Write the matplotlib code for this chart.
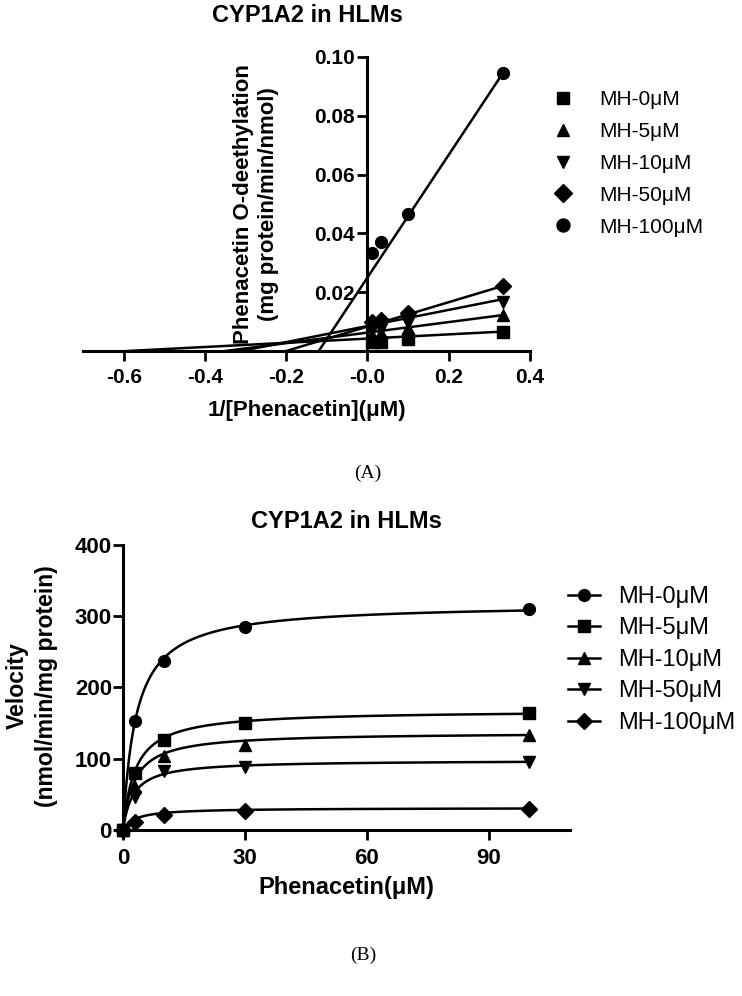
import matplotlib
matplotlib.use("Agg")
import matplotlib.pyplot as plt
import numpy as np

plt.rcParams['font.family'] = ['Liberation Sans', 'DejaVu Sans']

# ---- panel A: double reciprocal plot ----
inv_s = [0.01, 0.0333, 0.1, 0.3333]
a_labels = ['MH-0μM', 'MH-5μM', 'MH-10μM', 'MH-50μM', 'MH-100μM']
a_markers = ['s', '^', 'v', 'D', 'o']
a_mh0 = [0.0030, 0.0031, 0.0042, 0.0066]
a_mh5 = [0.0055, 0.0060, 0.0078, 0.0122]
a_mh10 = [0.0070, 0.0075, 0.0095, 0.0168]
a_mh50 = [0.0100, 0.0105, 0.0128, 0.0221]
a_mh100 = [0.0333, 0.0371, 0.0467, 0.0947]
# fitted lines (slope, y-intercept)
a_slope = [0.00715, 0.0179, 0.0274, 0.0415, 0.2086]
a_icpt = [0.00422, 0.00625, 0.0085, 0.0083, 0.0250]

# ---- panel B: Michaelis-Menten ----
conc = [0, 3, 10, 30, 100]
b_labels = ['MH-0μM', 'MH-5μM', 'MH-10μM', 'MH-50μM', 'MH-100μM']
b_markers = ['o', 's', '^', 'v', 'D']
b_mh0 = [0, 153, 237, 285, 310]
b_mh5 = [0, 80, 126, 150, 164]
b_mh10 = [0, 60, 104, 119, 133]
b_mh50 = [0, 46, 83, 89, 96]
b_mh100 = [0, 11, 21, 27, 30]
vmax = [318, 168, 137, 98, 31]
km = [3.2, 3.0, 2.8, 2.5, 3.0]

fig = plt.figure(figsize=(7.42, 9.96), dpi=100)


def style_axes(ax, tsize):
    for s in ['top', 'right']:
        ax.spines[s].set_visible(False)
    for s in ['left', 'bottom']:
        ax.spines[s].set_linewidth(2.2)
    ax.tick_params(direction='out', length=7, width=2, labelsize=tsize)
    plt.setp(ax.get_xticklabels() + ax.get_yticklabels(), fontweight='bold')


# panel A
ax1 = fig.add_axes([0.1119, 0.6476, 0.6024, 0.2952])
a_data = [a_mh0, a_mh5, a_mh10, a_mh50, a_mh100]
for vals, mk, lab, sl, ic in zip(a_data, a_markers, a_labels, a_slope, a_icpt):
    x0 = -ic / sl
    xs = np.array([x0, inv_s[-1]])
    ax1.plot(xs, sl * xs + ic, color='black', lw=1.8, clip_on=False)
    ax1.plot(inv_s, vals, ls='none', marker=mk, color='black', ms=8.5,
             label=lab, clip_on=False)
ax1.set_xlim(-0.7, 0.4)
ax1.set_ylim(0, 0.10)
ax1.spines['left'].set_position(('data', 0))
ax1.set_xticks([-0.6, -0.4, -0.2, 0, 0.2, 0.4])
ax1.set_xticklabels(['-0.6', '-0.4', '-0.2', '-0.0', '0.2', '0.4'])
ax1.set_yticks([0.02, 0.04, 0.06, 0.08, 0.10])
ax1.set_yticklabels(['0.02', '0.04', '0.06', '0.08', '0.10'])
style_axes(ax1, 15)
ax1.tick_params(axis='x', pad=5)
ax1.tick_params(axis='y', pad=2)
ax1.legend(loc='upper left', bbox_to_anchor=(547 / 742, 1 - 90 / 996),
           bbox_transform=fig.transFigure, frameon=False, fontsize=15,
           handlelength=1.5, handletextpad=1.0, labelspacing=0.62,
           borderpad=0, borderaxespad=0, markerscale=1.1)
fig.text(307 / 742, 1 - 15 / 996, 'CYP1A2 in HLMs', ha='center', va='center',
         fontsize=17, fontweight='bold')
fig.text(256 / 742, 1 - 204 / 996,
         'Phenacetin O-deethylation\n(mg protein/min/nmol)',
         rotation=90, ha='center', va='center', ma='center',
         fontsize=16, fontweight='bold', linespacing=1.2)
fig.text(307 / 742, 1 - 410 / 996, '1/[Phenacetin](μM)', ha='center',
         va='center', fontsize=16, fontweight='bold')
fig.text(368 / 742, 1 - 473 / 996, '(A)', ha='center', va='center',
         fontsize=14, family='Liberation Serif')

# panel B
ax2 = fig.add_axes([0.1658, 0.1667, 0.6024, 0.2861])
b_data = [b_mh0, b_mh5, b_mh10, b_mh50, b_mh100]
sx = np.linspace(0, 100, 400)
for vals, mk, lab, vm, k in zip(b_data, b_markers, b_labels, vmax, km):
    ax2.plot(sx, vm * sx / (k + sx), color='black', lw=1.8, clip_on=False)
    ax2.plot(conc, vals, ls='none', marker=mk, color='black', ms=8.5,
             clip_on=False)
    ax2.plot([], [], color='black', lw=1.8, marker=mk, ms=8.5, label=lab)
ax2.set_xlim(0, 110)
ax2.set_ylim(0, 400)
ax2.set_xticks([0, 30, 60, 90])
ax2.set_yticks([0, 100, 200, 300, 400])
style_axes(ax2, 16)
ax2.tick_params(axis='x', pad=6)
ax2.tick_params(axis='y', pad=1)
ax2.legend(loc='upper left', bbox_to_anchor=(568 / 742, 1 - 586 / 996),
           bbox_transform=fig.transFigure, frameon=False, fontsize=17,
           handlelength=1.36, handletextpad=0.75, labelspacing=0.4,
           borderpad=0, borderaxespad=0)
fig.text(346 / 742, 1 - 522 / 996, 'CYP1A2 in HLMs', ha='center', va='center',
         fontsize=17, fontweight='bold')
fig.text(32 / 742, 1 - 686 / 996, 'Velocity\n(nmol/min/mg protein)',
         rotation=90, ha='center', va='center', ma='center',
         fontsize=16.6, fontweight='bold', linespacing=1.35)
fig.text(346 / 742, 1 - 887 / 996, 'Phenacetin(μM)', ha='center',
         va='center', fontsize=17, fontweight='bold')
fig.text(363 / 742, 1 - 955 / 996, '(B)', ha='center', va='center',
         fontsize=14, family='Liberation Serif')

fig.savefig('out.png', dpi=100)
